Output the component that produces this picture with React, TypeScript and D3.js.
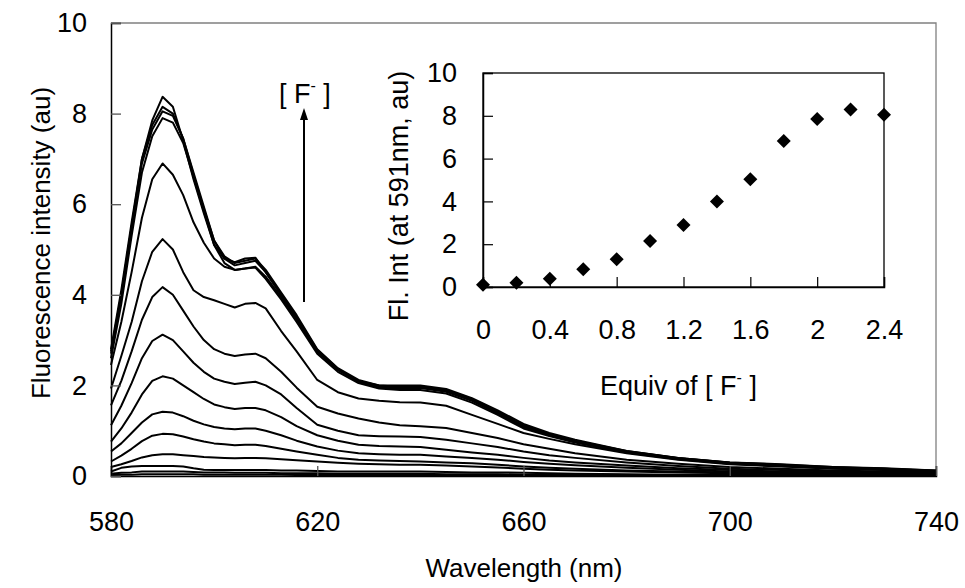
import { useEffect, useRef } from 'react'
import * as d3 from 'd3'

// emission spectra, sampled on a shared wavelength grid (nm)
const wavelengths = [580, 582, 584, 586, 588, 590, 592, 594, 596, 598, 600, 602, 604, 606, 608, 610, 613, 616, 620, 624, 628, 632, 636, 640, 645, 650, 655, 660, 665, 670, 680, 690, 700, 710, 720, 730, 740]

const specA = [2.7, 4.0, 5.5, 7.0, 7.85, 8.37, 8.15, 7.4, 6.55, 5.8, 5.1, 4.8, 4.72, 4.8, 4.82, 4.5, 4.0, 3.5, 2.75, 2.35, 2.1, 2.0, 2.0, 2.0, 1.92, 1.72, 1.45, 1.15, 0.95, 0.8, 0.55, 0.4, 0.3, 0.26, 0.2, 0.17, 0.12]
const specB = [2.8, 4.1, 5.6, 7.0, 7.75, 8.15, 8.0, 7.45, 6.65, 5.9, 5.2, 4.85, 4.7, 4.75, 4.8, 4.55, 4.05, 3.55, 2.8, 2.38, 2.12, 2.0, 1.97, 1.98, 1.9, 1.7, 1.42, 1.12, 0.93, 0.78, 0.55, 0.4, 0.3, 0.25, 0.2, 0.16, 0.12]
const specC = [2.75, 4.0, 5.5, 6.9, 7.65, 8.05, 7.95, 7.45, 6.7, 5.95, 5.2, 4.8, 4.65, 4.7, 4.75, 4.5, 4.0, 3.5, 2.78, 2.36, 2.1, 1.98, 1.95, 1.96, 1.88, 1.68, 1.4, 1.1, 0.92, 0.77, 0.54, 0.39, 0.29, 0.24, 0.19, 0.16, 0.11]
const specD = [2.6, 3.8, 5.3, 6.7, 7.5, 7.9, 7.8, 7.35, 6.6, 5.85, 5.1, 4.7, 4.55, 4.58, 4.62, 4.4, 3.95, 3.45, 2.75, 2.34, 2.08, 1.95, 1.93, 1.94, 1.86, 1.66, 1.38, 1.08, 0.9, 0.76, 0.53, 0.38, 0.28, 0.23, 0.18, 0.15, 0.1]
const specE = [2.45, 3.4, 4.5, 5.7, 6.55, 6.9, 6.65, 6.2, 5.6, 5.15, 4.8, 4.62, 4.55, 4.58, 4.6, 4.35, 3.9, 3.4, 2.7, 2.3, 2.05, 1.93, 1.9, 1.9, 1.82, 1.62, 1.35, 1.05, 0.88, 0.74, 0.52, 0.37, 0.27, 0.22, 0.17, 0.14, 0.1]
const specF = [1.93, 2.65, 3.4, 4.3, 4.95, 5.23, 5.0, 4.5, 4.1, 3.95, 3.88, 3.8, 3.72, 3.8, 3.82, 3.7, 3.2, 2.75, 2.12, 1.85, 1.71, 1.66, 1.63, 1.62, 1.55, 1.35, 1.15, 0.95, 0.82, 0.7, 0.5, 0.36, 0.26, 0.21, 0.16, 0.13, 0.09]
const specG = [1.56, 2.1, 2.75, 3.45, 3.95, 4.17, 4.0, 3.65, 3.3, 3.0, 2.8, 2.7, 2.65, 2.68, 2.7, 2.6, 2.3, 1.95, 1.53, 1.38, 1.27, 1.18, 1.12, 1.1, 1.06, 0.95, 0.84, 0.7, 0.6, 0.5, 0.36, 0.27, 0.2, 0.16, 0.12, 0.1, 0.07]
const specH = [1.12, 1.55, 2.05, 2.6, 2.98, 3.12, 3.0, 2.75, 2.5, 2.3, 2.15, 2.08, 2.03, 2.06, 2.08, 2.0, 1.8, 1.5, 1.13, 1.0, 0.9, 0.88, 0.87, 0.86, 0.8, 0.72, 0.64, 0.54, 0.46, 0.4, 0.3, 0.22, 0.16, 0.13, 0.1, 0.08, 0.06]
const specI = [0.76, 1.05, 1.4, 1.8, 2.1, 2.2, 2.15, 2.0, 1.85, 1.7, 1.58, 1.52, 1.48, 1.5, 1.5, 1.45, 1.3, 1.1, 0.9, 0.78, 0.69, 0.66, 0.65, 0.64, 0.58, 0.52, 0.47, 0.4, 0.34, 0.3, 0.23, 0.17, 0.13, 0.1, 0.08, 0.06, 0.05]
const specJ = [0.54, 0.72, 0.95, 1.18, 1.36, 1.42, 1.4, 1.32, 1.22, 1.14, 1.08, 1.05, 1.03, 1.05, 1.05, 1.0, 0.9, 0.78, 0.65, 0.56, 0.5, 0.48, 0.47, 0.47, 0.43, 0.4, 0.36, 0.31, 0.27, 0.24, 0.18, 0.14, 0.1, 0.08, 0.06, 0.05, 0.04]
const specK = [0.32, 0.45, 0.6, 0.77, 0.89, 0.93, 0.92, 0.87, 0.81, 0.76, 0.72, 0.7, 0.68, 0.69, 0.69, 0.66, 0.6, 0.54, 0.47, 0.4, 0.36, 0.34, 0.33, 0.32, 0.3, 0.28, 0.25, 0.21, 0.18, 0.16, 0.12, 0.1, 0.08, 0.06, 0.05, 0.04, 0.03]
const specL = [0.2, 0.26, 0.33, 0.41, 0.46, 0.48, 0.48, 0.46, 0.44, 0.42, 0.41, 0.4, 0.39, 0.4, 0.4, 0.39, 0.37, 0.35, 0.32, 0.29, 0.27, 0.26, 0.25, 0.25, 0.23, 0.21, 0.19, 0.16, 0.14, 0.12, 0.1, 0.08, 0.06, 0.05, 0.04, 0.03, 0.03]
const specM = [0.1, 0.18, 0.21, 0.22, 0.22, 0.22, 0.22, 0.21, 0.17, 0.14, 0.13, 0.13, 0.13, 0.13, 0.13, 0.13, 0.12, 0.12, 0.11, 0.1, 0.1, 0.1, 0.1, 0.1, 0.09, 0.08, 0.08, 0.07, 0.06, 0.05, 0.04, 0.03, 0.03, 0.02, 0.02, 0.02, 0.02]
const specN = [0.05, 0.07, 0.08, 0.1, 0.1, 0.1, 0.1, 0.1, 0.09, 0.08, 0.08, 0.08, 0.07, 0.07, 0.07, 0.07, 0.06, 0.06, 0.06, 0.05, 0.05, 0.05, 0.05, 0.05, 0.04, 0.04, 0.04, 0.03, 0.03, 0.03, 0.02, 0.02, 0.02, 0.01, 0.01, 0.01, 0.01]
const specO = [0.02, 0.03, 0.03, 0.04, 0.04, 0.04, 0.04, 0.04, 0.04, 0.03, 0.03, 0.03, 0.03, 0.03, 0.03, 0.03, 0.03, 0.02, 0.02, 0.02, 0.02, 0.02, 0.02, 0.02, 0.02, 0.02, 0.02, 0.01, 0.01, 0.01, 0.01, 0.01, 0.01, 0.01, 0.0, 0.0, 0.0]

const spectra = [specA, specB, specC, specD, specE, specF, specG, specH, specI, specJ, specK, specL, specM, specN, specO]

// titration (inset)
const equiv = [0, 0.2, 0.4, 0.6, 0.8, 1.0, 1.2, 1.4, 1.6, 1.8, 2.0, 2.2, 2.4]
const intensity591 = [0.1, 0.2, 0.38, 0.83, 1.3, 2.15, 2.9, 4.0, 5.03, 6.82, 7.85, 8.3, 8.05]

const mainXTicks = [580, 620, 660, 700, 740]
const mainYTicks = [0, 2, 4, 6, 8, 10]
const insetXTicks = [0, 0.4, 0.8, 1.2, 1.6, 2, 2.4]
const insetYTicks = [0, 2, 4, 6, 8, 10]

const FONT = '"Liberation Sans", Arial, sans-serif'

export default function App() {
  const svgRef = useRef<SVGSVGElement>(null)

  useEffect(() => {
    const w = 965
    const h = 588
    const svg = d3.select(svgRef.current)
      .attr('width', w)
      .attr('height', h)
      .style('font-family', FONT)
    svg.selectAll('*').remove()

    // main plot
    const m = { left: 111, right: 936, top: 23, bottom: 476 }
    const x = d3.scaleLinear().domain([580, 740]).range([m.left, m.right])
    const y = d3.scaleLinear().domain([0, 10]).range([m.bottom, m.top])

    // frame (top / right in grey)
    svg.append('path')
      .attr('d', `M${m.left},${m.top}H${m.right}V${m.bottom}`)
      .attr('fill', 'none')
      .attr('stroke', '#808080')
      .attr('stroke-width', 1.3)

    const line = d3.line<number>()
      .x((d, i) => x(wavelengths[i]))
      .y(d => y(d))

    svg.append('g')
      .selectAll('path')
      .data(spectra)
      .join('path')
        .attr('d', d => line(d))
        .attr('fill', 'none')
        .attr('stroke', '#000')
        .attr('stroke-width', 2)
        .attr('stroke-linejoin', 'round')

    const xAxis = d3.axisBottom(x)
      .tickValues(mainXTicks)
      .tickSize(-10)
      .tickPadding(36)
      .tickFormat(d => String(d))
    const yAxis = d3.axisLeft(y)
      .tickValues(mainYTicks)
      .tickSize(-10)
      .tickPadding(24)
      .tickFormat(d => String(d))

    const gx = svg.append('g').attr('transform', `translate(0,${m.bottom})`).call(xAxis)
    const gy = svg.append('g').attr('transform', `translate(${m.left},0)`).call(yAxis)
    ;[gx, gy].forEach(g => {
      g.select('.domain').attr('stroke', '#000').attr('stroke-width', 1.5)
      g.selectAll('.tick line').attr('stroke', '#555').attr('stroke-width', 1.3)
      g.selectAll('.tick text')
        .attr('fill', '#000')
        .style('font-family', FONT)
        .style('font-size', '27px')
    })

    svg.append('text')
      .attr('transform', 'translate(41,243) rotate(-90)')
      .attr('text-anchor', 'middle')
      .attr('dy', '0.35em')
      .style('font-size', '26px')
      .text('Fluorescence intensity (au)')

    svg.append('text')
      .attr('x', 524)
      .attr('y', 577)
      .attr('text-anchor', 'middle')
      .style('font-size', '26px')
      .text('Wavelength (nm)')

    // [F-] arrow
    const lbl = svg.append('text')
      .attr('x', 279)
      .attr('y', 103)
      .style('font-size', '27px')
    lbl.append('tspan').text('[ F')
    lbl.append('tspan').attr('dy', -12).style('font-size', '16px').text('-')
    lbl.append('tspan').attr('dy', 12).text(' ]')

    svg.append('line')
      .attr('x1', 304).attr('x2', 304)
      .attr('y1', 302).attr('y2', 118)
      .attr('stroke', '#000')
      .attr('stroke-width', 2)
    svg.append('path')
      .attr('d', 'M304,108L300,120L308,120Z')
      .attr('fill', '#000')

    // inset
    const n = { left: 483, right: 884, top: 73, bottom: 287 }
    const ix = d3.scaleLinear().domain([0, 2.4]).range([n.left, n.right])
    const iy = d3.scaleLinear().domain([0, 10]).range([n.bottom, n.top])

    svg.append('rect')
      .attr('x', n.left).attr('y', n.top)
      .attr('width', n.right - n.left).attr('height', n.bottom - n.top)
      .attr('fill', '#fff')
      .attr('stroke', '#000')
      .attr('stroke-width', 1.3)

    const ixAxis = d3.axisBottom(ix)
      .tickValues(insetXTicks)
      .tickSize(-10)
      .tickPadding(33)
      .tickFormat(d => String(d))
    const iyAxis = d3.axisLeft(iy)
      .tickValues(insetYTicks)
      .tickSize(-10)
      .tickPadding(26)
      .tickFormat(d => String(d))

    const gix = svg.append('g').attr('transform', `translate(0,${n.bottom})`).call(ixAxis)
    const giy = svg.append('g').attr('transform', `translate(${n.left},0)`).call(iyAxis)
    ;[gix, giy].forEach(g => {
      g.select('.domain').attr('stroke', '#000').attr('stroke-width', 1.5)
      g.selectAll('.tick line').attr('stroke', '#000').attr('stroke-width', 1.2)
      g.selectAll('.tick text')
        .attr('fill', '#000')
        .style('font-family', FONT)
        .style('font-size', '27px')
    })

    const diamond = d3.symbol().type(d3.symbolSquare).size(98)
    svg.append('g')
      .selectAll('path')
      .data(equiv)
      .join('path')
        .attr('d', diamond())
        .attr('transform', (d, i) => `translate(${ix(d)},${iy(intensity591[i])}) rotate(45)`)
        .attr('fill', '#000')

    svg.append('text')
      .attr('transform', 'translate(399,196) rotate(-90)')
      .attr('text-anchor', 'middle')
      .attr('dy', '0.35em')
      .style('font-size', '27px')
      .text('Fl. Int (at 591nm, au)')

    const eq = svg.append('text')
      .attr('x', 600)
      .attr('y', 395)
      .style('font-size', '27px')
    eq.append('tspan').text('Equiv of [ F')
    eq.append('tspan').attr('dy', -12).style('font-size', '16px').text('-')
    eq.append('tspan').attr('dy', 12).text(' ]')
  }, [])

  return (
    <div style={{ position: 'absolute', left: 0, top: 0, background: '#fff' }}>
      <svg ref={svgRef}></svg>
    </div>
  )
}
